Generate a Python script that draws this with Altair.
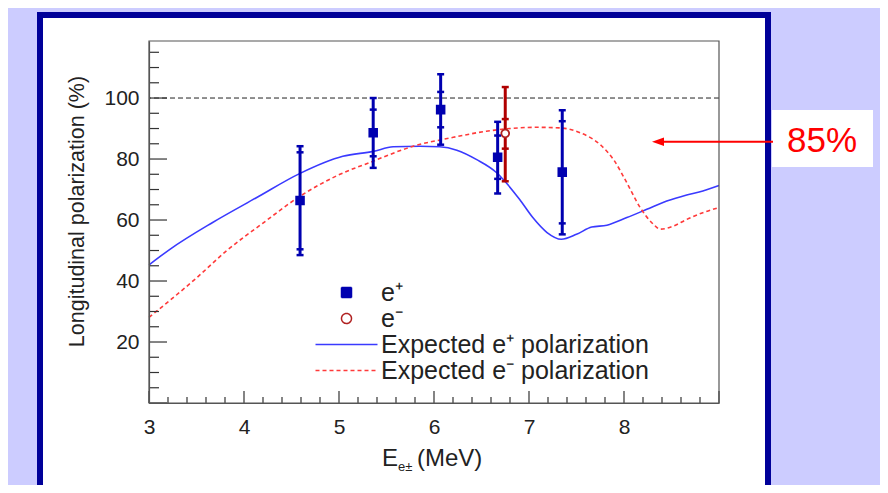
import altair as alt
import pandas as pd

# ---------------- data ----------------
energy = [4.59, 5.36, 6.07, 6.67, 6.75, 7.35]
polarization = [66.4, 88.6, 96.2, 80.6, 88.4, 75.7]
species = ["e⁺", "e⁺", "e⁺", "e⁺", "e⁻", "e⁺"]
inner_low = [50.4, 80.9, 90.4, 73.5, 83.4, 58.9]
inner_high = [82.2, 96.2, 102.0, 87.7, 93.1, 92.4]
outer_low = [48.5, 77.1, 84.7, 68.7, 72.7, 55.3]
outer_high = [84.2, 100.0, 107.8, 92.2, 103.6, 96.0]

blue_x = [3.0, 3.22, 3.67, 4.13, 4.59, 5.04, 5.36, 5.57, 5.85, 6.06, 6.24, 6.45, 6.66, 6.76,
          6.90, 7.04, 7.19, 7.34, 7.50, 7.66, 7.82, 8.03, 8.24, 8.45, 8.66, 8.83, 9.0]
blue_y = [45.3, 50.4, 59.2, 67.3, 75.3, 80.9, 82.5, 84.0, 84.2, 84.0, 82.9, 79.8, 75.5, 72.2,
          66.8, 60.8, 55.9, 53.7, 55.3, 57.7, 58.3, 60.8, 63.5, 66.2, 68.2, 69.5, 71.3]

red_x = [3.0, 3.5, 3.82, 4.2, 4.59, 4.97, 5.36, 5.78, 6.17, 6.55, 6.76, 7.08, 7.33, 7.54,
         7.75, 7.89, 8.03, 8.17, 8.31, 8.38, 8.52, 8.66, 8.83, 9.0]
red_y = [28.1, 41.0, 50.0, 59.0, 67.8, 74.4, 79.3, 84.2, 86.9, 89.1, 89.9, 90.4, 90.2, 88.6,
         84.7, 79.8, 72.2, 64.1, 58.6, 57.0, 58.0, 60.2, 62.4, 64.1]

reference_level = [100]

legend_names = ["e⁺", "e⁻", "Expected e⁺ polarization", "Expected e⁻ polarization"]
x_tick_labels = [3, 4, 5, 6, 7, 8]
y_tick_labels = [20, 40, 60, 80, 100]
x_major = [3, 4, 5, 6, 7, 8, 9]
x_minor = [round(3 + 0.2 * i, 1) for i in range(31) if i % 5]
y_major = [0, 20, 40, 60, 80, 100]
y_minor = [v for v in range(5, 119, 5) if v % 20]
annotation = ["85%"]

# ---------------- styling ----------------
W, H = 570, 362
FONT = "Liberation Sans"
TXT = "#222222"
BLUE_PT = "#0000b0"
RED_PT = "#b00000"
BLUE_LN = "#3a3aff"
RED_LN = "#ff3a3a"

pts = pd.DataFrame({
    "E": energy, "P": polarization, "kind": species,
    "ilo": inner_low, "ihi": inner_high, "olo": outer_low, "ohi": outer_high,
})
caps = pts.melt(id_vars=["E", "kind"], value_vars=["ilo", "ihi", "olo", "ohi"], value_name="cap")
blue = pd.DataFrame({"E": blue_x, "P": blue_y})
red = pd.DataFrame({"E": red_x, "P": red_y})
ref = pd.DataFrame({"P": reference_level})
one = pd.DataFrame({"t": annotation})

xs = alt.Scale(domain=[3, 9], nice=False, zero=False)
ys = alt.Scale(domain=[0, 118.7], nice=False, zero=False)

x_axis = alt.Axis(values=x_tick_labels, format="d", labelFont=FONT, labelFontSize=21, labelColor=TXT,
                  labelPadding=13, labelFlush=False, ticks=False, domain=True, domainColor="#555555",
                  domainWidth=1.2, grid=False, title=None, zindex=1)
y_axis = alt.Axis(values=y_tick_labels, format="d", labelFont=FONT, labelFontSize=21, labelColor=TXT,
                  labelPadding=10, labelFlush=False, ticks=False, domain=True, domainColor="#555555",
                  domainWidth=1.2, grid=False, title="Longitudinal polarization (%)", titleFont=FONT,
                  titleFontSize=21.5, titleFontWeight="normal", titleColor=TXT, titleX=-72, titleY=170,
                  titleAlign="center", titleBaseline="middle", titleAngle=270, zindex=1)

X = lambda f: alt.X(f, type="quantitative", scale=xs, axis=x_axis)
Y = lambda f: alt.Y(f, type="quantitative", scale=ys, axis=y_axis)

# ---------- slide decorations ----------
def box(x1, x2, y1, y2, color):
    return alt.Chart(one).mark_rect(color=color, opacity=1).encode(
        x=alt.value(x1), x2=alt.value(x2), y=alt.value(y1), y2=alt.value(y2))

navy = box(-112, 622, -29, 470, "#000099")
inner = box(-106, 616, -23, 460, "#ffffff")
note_box = box(623, 724, 69, 126, "#ffffff")
note_text = alt.Chart(one).mark_text(font=FONT, fontSize=35, color="#ff0000", align="center",
                                     baseline="alphabetic").encode(
    text="t:N", x=alt.value(673), y=alt.value(110.5))
arrow_line = alt.Chart(one).mark_rule(color="#ff0000", strokeWidth=2).encode(
    x=alt.value(624), x2=alt.value(508), y=alt.value(100.7))
arrow_head = alt.Chart(one).mark_point(shape="M-1,0L1,-0.7L1,0.7Z", filled=True, color="#ff0000",
                                       size=144, opacity=1).encode(
    x=alt.value(509), y=alt.value(100.7))

# ---------- curves ----------
blue_line = alt.Chart(blue).mark_line(color=BLUE_LN, strokeWidth=1.6, interpolate="monotone").encode(
    x=X("E"), y=Y("P"))
red_line = alt.Chart(red).mark_line(color=RED_LN, strokeWidth=1.6, strokeDash=[4, 3],
                                    interpolate="monotone").encode(x=X("E"), y=Y("P"))
ref_line = alt.Chart(ref).mark_rule(color="#222222", strokeWidth=1, strokeDash=[5, 3]).encode(y=Y("P"))

# ---------- data points ----------
col = alt.Color("kind:N", scale=alt.Scale(domain=["e⁺", "e⁻"], range=[BLUE_PT, RED_PT]), legend=None)
bars = alt.Chart(pts).mark_rule(strokeWidth=3).encode(x=X("E"), y=Y("olo"), y2="ohi", color=col)
cap_marks = alt.Chart(caps).mark_tick(orient="horizontal", size=7, thickness=2.5, opacity=1).encode(
    x=X("E"), y=Y("cap"), color=col)

leg = alt.Legend(title=None, orient="none", legendX=185, legendY=239, labelFont=FONT, labelFontSize=25,
                 labelColor=TXT, labelOffset=22, labelLimit=500, symbolSize=100, symbolStrokeWidth=1.5,
                 rowPadding=0, padding=0, zindex=1)
dom = legend_names
points = alt.Chart(pts).mark_point(size=60, strokeWidth=1.8, opacity=1).encode(
    x=X("E"), y=Y("P"),
    shape=alt.Shape("kind:N", scale=alt.Scale(domain=dom, range=["square", "circle", "M-6.2,0L6.2,0",
                                                                 "M-6.2,0L6.2,0"]), legend=leg),
    fill=alt.Fill("kind:N", scale=alt.Scale(domain=dom, range=[BLUE_PT, "#ffffff", "transparent",
                                                               "transparent"]), legend=leg),
    stroke=alt.Stroke("kind:N", scale=alt.Scale(domain=dom, range=[BLUE_PT, "#b02020", BLUE_LN, RED_LN]),
                      legend=leg),
    strokeDash=alt.StrokeDash("kind:N", scale=alt.Scale(domain=dom, range=[[1, 0], [1, 0], [1, 0], [4, 3]]),
                              legend=leg),
)

# ---------- inward ticks & frame ----------
def xticks(vals, length):
    return alt.Chart(pd.DataFrame({"v": vals})).mark_rule(color="#333333", strokeWidth=1.2).encode(
        x=X("v"), y=alt.value(H), y2=alt.value(H - length))

def yticks(vals, length):
    return alt.Chart(pd.DataFrame({"v": vals})).mark_rule(color="#333333", strokeWidth=1.2).encode(
        y=Y("v"), x=alt.value(0), x2=alt.value(length))

frame = alt.Chart(one).mark_rect(fillOpacity=0, stroke="#555555", strokeWidth=1.2).encode(
    x=alt.value(0), x2=alt.value(W), y=alt.value(0), y2=alt.value(H))

# ---------- x title E_{e±} (MeV) ----------
def label(txt, x, y, size):
    return alt.Chart(pd.DataFrame({"t": [txt]})).mark_text(
        font=FONT, fontSize=size, color=TXT, align="left", baseline="alphabetic").encode(
        text="t:N", x=alt.value(x), y=alt.value(y))

xt1 = label("E", 233, 425, 24)
xt2 = label("e±", 249, 430, 13)
xt3 = label("(MeV)", 268, 425, 24)

chart = alt.layer(
    navy, inner, note_box, note_text,
    ref_line, blue_line, red_line, bars, cap_marks, points,
    xticks(x_major, 12), xticks(x_minor, 6), yticks(y_major, 18), yticks(y_minor, 10),
    frame, arrow_line, arrow_head, xt1, xt2, xt3,
).properties(
    width=W, height=H,
    autosize=alt.AutoSizeParams(type="none"),
    padding={"left": 141, "top": 33, "right": 161, "bottom": 82},
).configure(background="#ccccff", font=FONT).configure_view(stroke=None)

chart.save("out.html", embed_options={"renderer": "svg", "actions": False})
